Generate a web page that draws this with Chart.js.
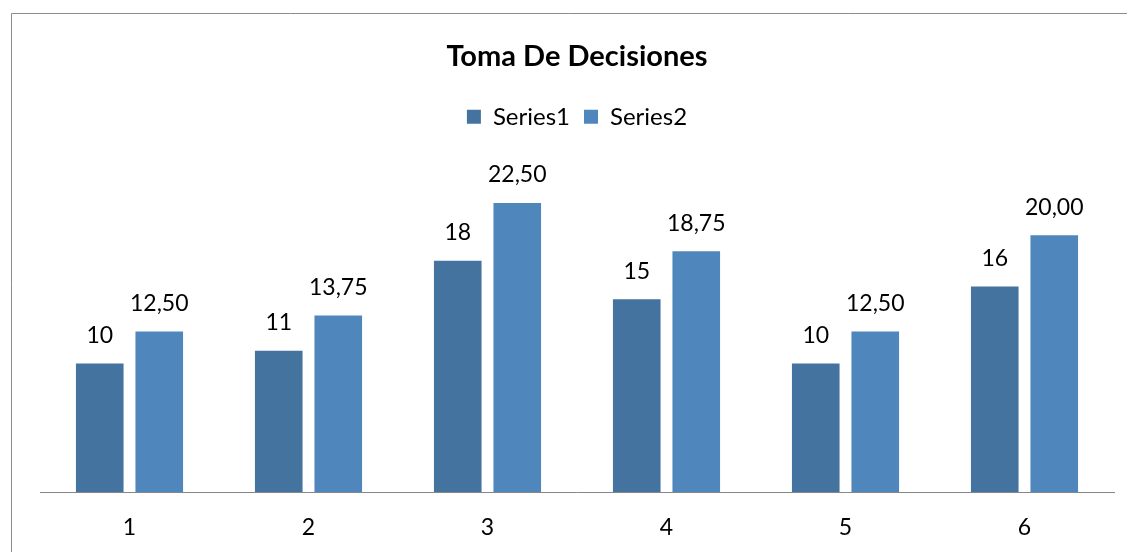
<!DOCTYPE html>
<html>
<head>
<meta charset="utf-8">
<script src="https://cdn.jsdelivr.net/npm/chart.js@4.4.0/dist/chart.umd.min.js"></script>
<style>
  html, body { margin: 0; padding: 0; background: #fff; }
  #wrap { width: 1127px; height: 552px; position: relative; }
</style>
</head>
<body>
<div id="wrap"><canvas id="c" width="1127" height="552"></canvas></div>
<script>
const categories = ["1", "2", "3", "4", "5", "6"];
const series1 = [10, 11, 18, 15, 10, 16];
const series2 = [12.5, 13.75, 22.5, 18.75, 12.5, 20];
const seriesNames = ["Series1", "Series2"];
const chartTitle = "Toma De Decisiones";

const FONT = "Lato, 'Open Sans', sans-serif";

const framePlugin = {
  id: 'frame',
  beforeDraw(chart) {
    const ctx = chart.ctx;
    ctx.save();
    ctx.fillStyle = '#ffffff';
    ctx.fillRect(0, 0, chart.width, chart.height);
    ctx.strokeStyle = '#8c8c8c';
    ctx.lineWidth = 1;
    ctx.beginPath();
    ctx.moveTo(11.5, chart.height + 2);
    ctx.lineTo(11.5, 13.5);
    ctx.lineTo(chart.width + 2, 13.5);
    ctx.stroke();
    ctx.restore();
  }
};

const labelPlugin = {
  id: 'barLabels',
  afterDatasetsDraw(chart) {
    const ctx = chart.ctx;
    ctx.save();
    ctx.font = "23px " + FONT;
    ctx.fillStyle = '#000';
    ctx.textAlign = 'center';
    ctx.textBaseline = 'middle';
    chart.data.datasets.forEach((ds, i) => {
      const meta = chart.getDatasetMeta(i);
      meta.data.forEach((el, j) => {
        const v = ds.data[j];
        const txt = i === 0 ? String(v) : v.toFixed(2).replace('.', ',');
        ctx.fillText(txt, el.x, el.y - 28);
      });
    });
    ctx.restore();
  }
};

new Chart(document.getElementById('c'), {
  type: 'bar',
  data: {
    labels: categories,
    datasets: [
      { label: seriesNames[0], data: series1, backgroundColor: '#44739f', borderWidth: 0,
        categoryPercentage: 0.665, barPercentage: 0.8 },
      { label: seriesNames[1], data: series2, backgroundColor: '#4f87bd', borderWidth: 0,
        categoryPercentage: 0.665, barPercentage: 0.8 }
    ]
  },
  options: {
    responsive: false,
    animation: false,
    devicePixelRatio: 1,
    layout: { padding: { left: 40, right: 13, top: 0, bottom: 0 } },
    plugins: {
      title: {
        display: true,
        text: chartTitle,
        color: '#000',
        font: { family: FONT, size: 29, weight: 'bold' },
        padding: { top: 39, bottom: 17 }
      },
      legend: {
        display: true,
        position: 'top',
        labels: {
          color: '#000',
          font: { family: FONT, size: 24 },
          boxWidth: 14,
          boxHeight: 14,
          padding: 14
        }
      },
      tooltip: { enabled: false }
    },
    scales: {
      x: {
        grid: { display: false, drawTicks: false },
        border: { display: true, color: '#868686', width: 1 },
        ticks: { color: '#000', font: { family: FONT, size: 23 }, padding: 22 },
        afterFit(scale) { scale.height = 60; }
      },
      y: {
        display: false,
        min: 0,
        max: 27.5
      }
    }
  },
  plugins: [framePlugin, labelPlugin]
});
</script>
</body>
</html>
